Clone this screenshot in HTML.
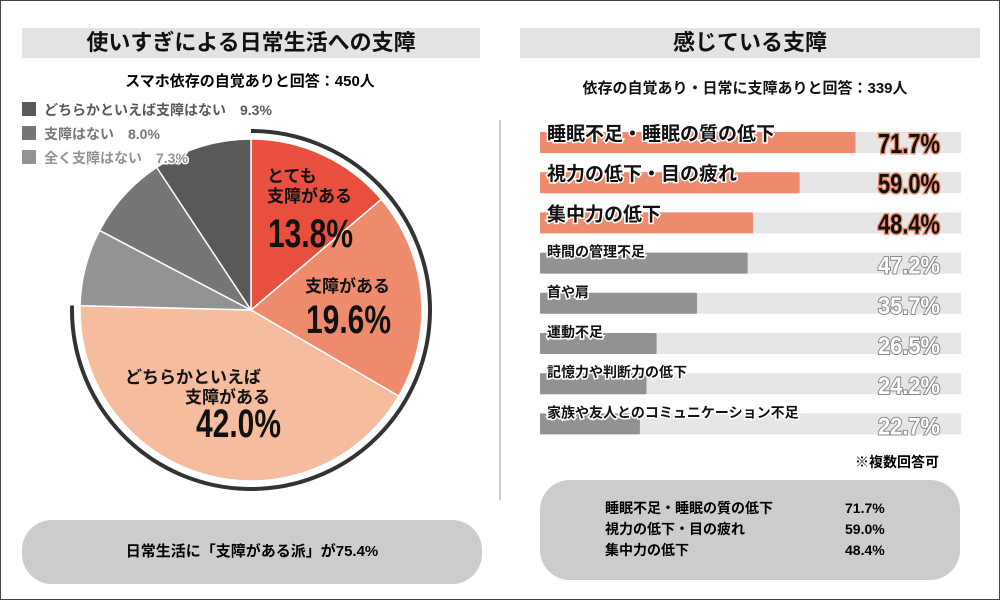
<!DOCTYPE html>
<html><head><meta charset="utf-8">
<style>
body{margin:0;width:1000px;height:600px;background:#fff;font-family:"Liberation Sans","Noto Sans CJK JP",sans-serif;overflow:hidden;position:relative}
.abs{position:absolute}
.title{background:#e3e3e3;height:30px;font-size:22px;font-weight:bold;text-align:center;line-height:30px;color:#111}
.pill{background:#cccccc;border-radius:30px}
</style></head><body>
<div class="abs" style="left:0;top:0;width:998px;height:598px;border:1px solid #444"></div>
<div class="abs title" style="left:22px;top:28px;width:458px">使いすぎによる日常生活への支障</div>
<div class="abs title" style="left:520px;top:28px;width:460px">感じている支障</div>
<div class="abs" style="left:499px;top:120px;width:2px;height:380px;background:#ccc"></div>
<div class="abs" style="left:0;top:70px;width:500px;text-align:center;font-size:15px;font-weight:bold">スマホ依存の自覚ありと回答：450人</div>
<svg class="abs" style="left:0;top:0" width="1000" height="600" id="svg"></svg>
<div class="abs pill" style="left:22px;top:520px;width:460px;height:64px;line-height:64px;text-align:center;font-size:15px;font-weight:bold">日常生活に「支障がある派」が75.4%</div>
<div class="abs" style="left:855px;top:452px;font-size:14px;font-weight:bold">※複数回答可</div>
<div class="abs pill" style="left:540px;top:480px;width:420px;height:100px"></div>
<div class="abs" style="left:605px;top:498px;font-size:14px;font-weight:bold;line-height:21px">
<div>睡眠不足・睡眠の質の低下<span style="position:absolute;left:240px">71.7%</span></div>
<div>視力の低下・目の疲れ<span style="position:absolute;left:240px">59.0%</span></div>
<div>集中力の低下<span style="position:absolute;left:240px">48.4%</span></div>
</div>
<script>
const pieLabels=["とても支障がある","支障がある","どちらかといえば支障がある","全く支障はない","支障はない","どちらかといえば支障はない"];
const pieValues=[13.8,19.6,42.0,7.3,8.0,9.3];
const pieColors=["#e84f3f","#ee8b6c","#f5bd9d","#939393","#767676","#595959"];
const barCats=["睡眠不足・睡眠の質の低下","視力の低下・目の疲れ","集中力の低下","時間の管理不足","首や肩","運動不足","記憶力や判断力の低下","家族や友人とのコミュニケーション不足"];
const barValues=[71.7,59.0,48.4,47.2,35.7,26.5,24.2,22.7];
const NS="http://www.w3.org/2000/svg";
const svg=document.getElementById('svg');
function mk(t,a,p){const e=document.createElementNS(NS,t);for(const k in a)e.setAttribute(k,a[k]);(p||svg).appendChild(e);return e;}
const cx=251,cy=310,r=171;
function pt(v,rr){const a=v/100*2*Math.PI;return [cx+rr*Math.sin(a),cy-rr*Math.cos(a)];}
let acc=0;
pieValues.forEach((v,i)=>{
 const s=pt(acc,r),e=pt(acc+v,r),large=v>50?1:0;
 const p=mk('path',{d:`M${cx},${cy}L${s[0]},${s[1]}A${r},${r} 0 ${large} 1 ${e[0]},${e[1]}Z`,fill:pieColors[i],stroke:'#fff','stroke-width':1.5});
 
 
 acc+=v;});
const sup=pieValues[0]+pieValues[1]+pieValues[2];
const as=pt(0,179),ae=pt(sup,179);
const arc=mk('path',{d:`M${as[0]},${as[1]}A179,179 0 ${sup>50?1:0} 1 ${ae[0]},${ae[1]}`,fill:'none',stroke:'#333','stroke-width':4});


function txt(x,y,s,size,opt){const t=mk('text',Object.assign({x:x,y:y,'font-size':size,'font-weight':'bold',fill:'#111','font-family':'"Liberation Sans","Noto Sans CJK JP",sans-serif'},opt||{}));t.textContent=s;return t;}
// pie labels
[[["とても","支障がある"],pieValues[0],267,182,268,247],[["支障がある"],pieValues[1],305,292,306,333],[["どちらかといえば","支障がある"],pieValues[2],125,383,196,437]].forEach((d,i)=>{
 d[0].forEach((l,j)=>{const t=txt(d[2]+(i==2&&j==1?60:0),d[3]+j*20,l,17);});
 const t=txt(d[4],d[5],d[1].toFixed(1)+'%',40,{textLength:85,lengthAdjust:'spacingAndGlyphs'});
 
});
// legend
[5,4,3].forEach((idx,j)=>{
 const y=102+j*24;
 const sq=mk('rect',{x:22,y:y,width:14,height:14,fill:pieColors[idx]});
 
 const t=txt(44,y+13,pieLabels[idx]+'　'+pieValues[idx].toFixed(1)+'%',14,{fill:pieColors[idx],stroke:'#fff','stroke-width':3,'paint-order':'stroke'});
 
});
// bar chart
const x0=540,trackW=421,scale=4.4,rowTop=132,rowH=40.2,barH=21;
barValues.forEach((v,i)=>{
 const y=rowTop+i*rowH,top=i<3;
 const tr=mk('rect',{x:x0,y:y,width:trackW,height:barH,fill:'#e6e6e6'});
 
 const b=mk('rect',{x:x0,y:y,width:v*scale,height:barH,fill:top?'#ee8b6c':'#929292',rx:1});
 
 const l=txt(547,top?y+8:y+4,barCats[i],top?19:14,{stroke:'#fff','stroke-width':3,'paint-order':'stroke'});
 
 const vt=txt(878,y+21,v.toFixed(1)+'%',top?28:24,{textLength:62,lengthAdjust:'spacingAndGlyphs',fill:top?'#111':'#fff',stroke:top?'#ee8b6c':'#888','stroke-width':top?3:2,'paint-order':'stroke'});
 
});
const sub=txt(745,93,'依存の自覚あり・日常に支障ありと回答：339人',15,{'text-anchor':'middle'});

</script>
</body></html>
